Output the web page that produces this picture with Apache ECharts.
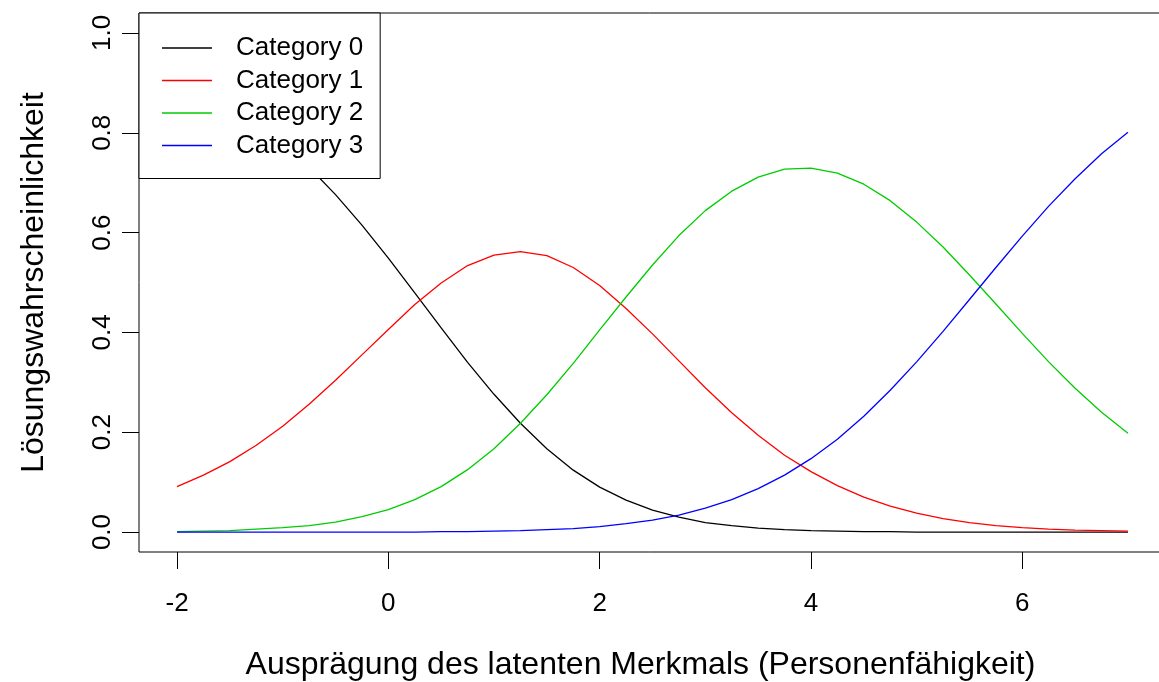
<!DOCTYPE html>
<html>
<head>
<meta charset="utf-8">
<script src="https://cdn.jsdelivr.net/npm/echarts@6/dist/echarts.min.js"></script>
<style>
  html, body { margin: 0; padding: 0; background: #fff; }
  #chart { width: 1159px; height: 682px; }
</style>
</head>
<body>
<div id="chart"></div>
<script>
// theta grid (latent trait), step 0.25
const theta = [-2, -1.75, -1.5, -1.25, -1, -0.75, -0.5, -0.25, 0, 0.25, 0.5, 0.75, 1, 1.25, 1.5, 1.75, 2,
  2.25, 2.5, 2.75, 3, 3.25, 3.5, 3.75, 4, 4.25, 4.5, 4.75, 5, 5.25, 5.5, 5.75, 6, 6.25, 6.5, 6.75, 7];

const cat0 = [0.908, 0.884, 0.855, 0.820, 0.779, 0.731, 0.676, 0.615, 0.549, 0.479, 0.409, 0.340, 0.276,
  0.218, 0.167, 0.124, 0.090, 0.064, 0.044, 0.030, 0.019, 0.013, 0.008, 0.005, 0.003, 0.002, 0.001, 0.001,
  0, 0, 0, 0, 0, 0, 0, 0, 0];
const cat1 = [0.091, 0.114, 0.141, 0.174, 0.212, 0.256, 0.304, 0.355, 0.406, 0.456, 0.499, 0.534, 0.555,
  0.562, 0.554, 0.530, 0.494, 0.448, 0.397, 0.343, 0.289, 0.239, 0.194, 0.154, 0.121, 0.093, 0.070, 0.052,
  0.038, 0.027, 0.019, 0.013, 0.009, 0.006, 0.004, 0.003, 0.002];
const cat2 = [0.001, 0.002, 0.003, 0.006, 0.009, 0.013, 0.020, 0.031, 0.045, 0.065, 0.091, 0.125, 0.167,
  0.218, 0.275, 0.338, 0.405, 0.471, 0.535, 0.594, 0.644, 0.683, 0.711, 0.727, 0.729, 0.719, 0.697, 0.664,
  0.621, 0.571, 0.515, 0.457, 0.398, 0.341, 0.288, 0.240, 0.198];
const cat3 = [0, 0, 0, 0, 0, 0, 0, 0, 0, 0, 0.001, 0.001, 0.002, 0.003, 0.005, 0.007, 0.011, 0.017, 0.024,
  0.034, 0.048, 0.065, 0.087, 0.114, 0.147, 0.186, 0.232, 0.284, 0.341, 0.402, 0.466, 0.530, 0.593, 0.653,
  0.708, 0.758, 0.801];

const xTicks = [-2, 0, 2, 4, 6];
const yTicks = [0, 0.2, 0.4, 0.6, 0.8, 1.0];

const seriesDefs = [
  { name: 'Category 0', color: '#000000', values: cat0 },
  { name: 'Category 1', color: '#ff0000', values: cat1 },
  { name: 'Category 2', color: '#00cd00', values: cat2 },
  { name: 'Category 3', color: '#0000ff', values: cat3 }
];

const FONT = '"Liberation Sans", Arial, sans-serif';

const chart = echarts.init(document.getElementById('chart'));

chart.setOption({
  animation: false,
  backgroundColor: '#fff',
  grid: {
    show: true,
    left: 139,
    top: 13,
    width: 1027,
    height: 539,
    outerBoundsMode: 'none',
    borderColor: '#000',
    borderWidth: 1,
    backgroundColor: 'transparent'
  },
  legend: {
    orient: 'vertical',
    left: 139,
    top: 13,
    padding: [22, 17, 20, 23],
    itemWidth: 50,
    itemHeight: 1.5,
    itemGap: 6.5,
    icon: 'rect',
    borderColor: '#000',
    borderWidth: 1,
    borderRadius: 0,
    backgroundColor: '#fff',
    textStyle: {
      fontFamily: FONT,
      fontSize: 26,
      lineHeight: 26,
      color: '#000',
      padding: [0, 0, 0, 19]
    },
    data: seriesDefs.map(s => s.name)
  },
  xAxis: {
    type: 'value',
    min: -2.36,
    max: 7.36,
    splitLine: { show: false },
    axisLine: { show: false, onZero: false },
    axisTick: { show: true, inside: false, length: 17, lineStyle: { color: '#000' }, customValues: xTicks },
    axisLabel: {
      fontFamily: FONT,
      fontSize: 26,
      color: '#000',
      margin: 39,
      customValues: xTicks,
      formatter: v => String(v)
    },
    name: 'Ausprägung des latenten Merkmals (Personenfähigkeit)',
    nameLocation: 'middle',
    nameGap: 97,
    nameTextStyle: { fontFamily: FONT, fontSize: 32, color: '#000', padding: [0, 24, 0, 0] }
  },
  yAxis: {
    type: 'value',
    min: -0.04,
    max: 1.04,
    splitLine: { show: false },
    axisLine: { show: false, onZero: false },
    axisTick: { show: true, inside: false, length: 17, lineStyle: { color: '#000' }, customValues: yTicks },
    axisLabel: {
      fontFamily: FONT,
      fontSize: 26,
      color: '#000',
      rotate: 90,
      margin: 23,
      customValues: yTicks,
      formatter: v => v.toFixed(1)
    },
    name: 'Lösungswahrscheinlichkeit',
    nameLocation: 'middle',
    nameGap: 89,
    nameTextStyle: { fontFamily: FONT, fontSize: 32, color: '#000' }
  },
  series: seriesDefs.map(s => ({
    name: s.name,
    type: 'line',
    symbol: 'none',
    color: s.color,
    lineStyle: { color: s.color, width: 1.3 },
    data: theta.map((t, i) => [t, s.values[i]])
  }))
});
</script>
</body>
</html>
